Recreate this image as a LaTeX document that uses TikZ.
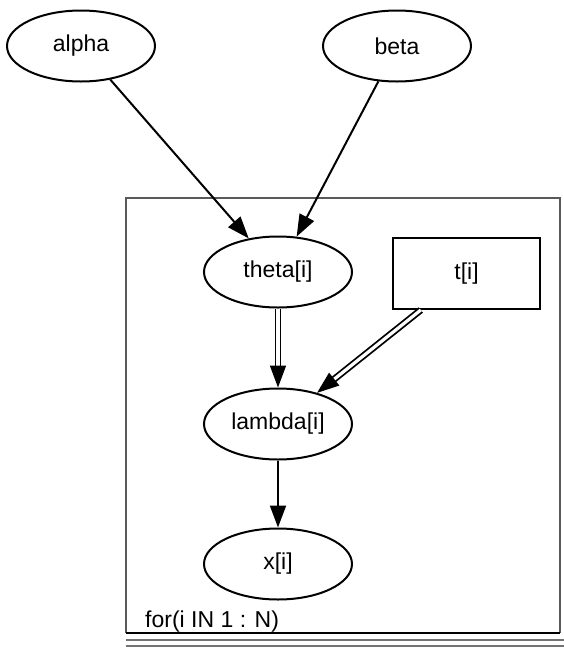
\documentclass[tikz,border=0pt]{standalone}
\usepackage{fontspec}
\setmainfont{Liberation Sans}
\usetikzlibrary{shapes.geometric,arrows.meta}
\begin{document}
\begin{tikzpicture}[x=1pt,y=-1pt,
  every node/.style={font=\fontsize{23}{26}\selectfont},
  stoch/.style={ellipse,draw,line width=2pt,minimum width=148pt,minimum height=71pt,inner sep=0pt},
  constbox/.style={rectangle,draw,line width=2pt,minimum width=147pt,minimum height=71pt,inner sep=0pt},
  arr/.style={line width=2pt,-{Triangle[length=22pt,width=16pt]}},
  dblarr/.style={line width=1.8pt,double,double distance=3.2pt,-{Triangle[length=22pt,width=16pt]}},
  plate/.style={line width=1.6pt,draw=black!65}]
\useasboundingbox (0,0) rectangle (564,649);
% plate
\draw[plate] (126,633) -- (126,198) -- (560,198) -- (560,633);
\draw[line width=1.6pt] (126,633) -- (560,633);
\draw[line width=1.6pt,draw=black!55] (126,640) -- (564,640);
\draw[line width=1.6pt,draw=black!55] (126,646) -- (564,646);
\node[anchor=base west,inner sep=0pt] (platelabel) at (145,627) {for(i IN 1 : N)};
% nodes
\node[stoch] (alpha) at (81,46) {alpha};
\node[stoch] (beta) at (397,46) {beta};
\node[stoch] (theta) at (278,272) {theta[i]};
\node[constbox] (t) at (466.5,273.5) {t[i]};
\node[stoch] (lambda) at (278,424) {lambda[i]};
\node[stoch] (x) at (278,564) {x[i]};
% edges
\draw[arr] (alpha) -- (theta);
\draw[arr] (beta) -- (theta);
\draw[dblarr] (theta) -- (lambda);
\draw[dblarr] (t) -- (lambda);
\draw[arr] (lambda) -- (x);
\end{tikzpicture}
\end{document}
